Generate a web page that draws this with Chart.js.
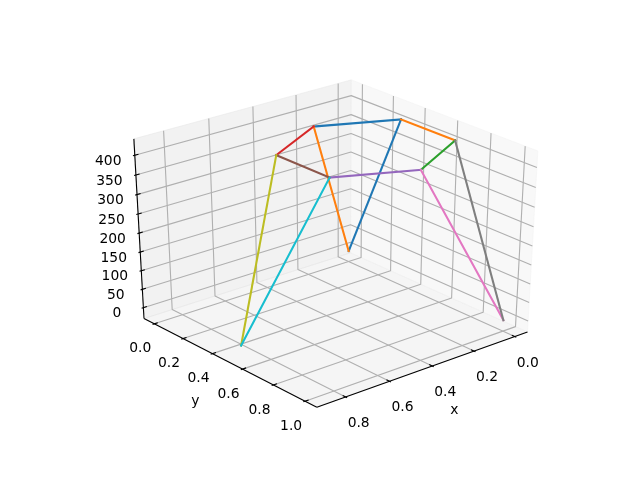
<!DOCTYPE html>
<html><head><meta charset="utf-8">
<style>html,body{margin:0;padding:0;background:#fff}canvas{display:block}</style>
<script src="https://cdn.jsdelivr.net/npm/chart.js@4/dist/chart.umd.js"></script>
</head><body><canvas id="c" width="640" height="480"></canvas>
<script>
// Node values
const nodeX = [0, 0, 0.866, 0, 0.289, 0.577, 0.577, 0.289, 0];
const nodeY = [0, 1, 0.5, 0.333, 0.167, 0.333, 0.667, 0.833, 0.667];
const nodeZ = [0, 0, 0, 411, 411, 411, 411, 411, 411];
// A=0 H=1 I=2 B=3 C=4 G=5 D=6 F=7 E=8
const edgeFrom = [0, 3, 0, 3, 8, 4, 6, 6, 7, 8, 5, 6];
const edgeTo   = [3, 4, 4, 8, 7, 5, 7, 5, 1, 1, 2, 2];
const edgeColors = ['#1f77b4','#1f77b4','#ff7f0e','#ff7f0e','#2ca02c','#d62728','#9467bd','#8c564b','#e377c2','#7f7f7f','#bcbd22','#17becf'];
const xTicks = [0, 0.2, 0.4, 0.6, 0.8];
const yTicks = [0, 0.2, 0.4, 0.6, 0.8, 1];
const zTicks = [0, 50, 100, 150, 200, 250, 300, 350, 400];
const xLabels = ['0.0','0.2','0.4','0.6','0.8'];
const yLabels = ['0.0','0.2','0.4','0.6','0.8','1.0'];
const zLabels = ['0','50','100','150','200','250','300','350','400'];
const xLim = [-0.0433, 0.9093], yLim = [-0.05, 1.05], zLim = [-20.5, 431.5];

// 3D view (elevation 30, azimuth 50, distance 10)
const az = 50*Math.PI/180, el = 30*Math.PI/180, dist = 10;
const nV = [Math.cos(el)*Math.cos(az), Math.cos(el)*Math.sin(az), Math.sin(el)];
const uV = [-Math.sin(az), Math.cos(az), 0];
const vV = [-Math.sin(el)*Math.cos(az), -Math.sin(el)*Math.sin(az), Math.cos(el)];
const dot = (a,b)=>a[0]*b[0]+a[1]*b[1]+a[2]*b[2];
function proj(x,y,z){
  const p=[(x-xLim[0])/(xLim[1]-xLim[0])-.5,(y-yLim[0])/(yLim[1]-yLim[0])-.5,(z-zLim[0])/(zLim[1]-zLim[0])-.5];
  const w=dist-dot(p,nV);
  return {x:dot(p,uV)/w,y:dot(p,vV)/w};
}
const dx=(xLim[1]-xLim[0])/12, dy=(yLim[1]-yLim[0])/12, dz=(zLim[1]-zLim[0])/12;
const x0=xLim[0]-dx/4, x1=xLim[1]+dx/4, y0=yLim[0]-dy/4, y1=yLim[1]+dy/4, z0=zLim[0]-dz/4, z1=zLim[1]+dz/4;

const datasets=[];
function path(pts,style){datasets.push(Object.assign({data:pts.map(p=>proj(p[0],p[1],p[2])),showLine:true,pointRadius:0,pointHoverRadius:0,tension:0,clip:false,borderCapStyle:'butt',borderJoinStyle:'round'},style));}
function pane(pts,c){path(pts.concat([pts[0]]),{fill:'shape',backgroundColor:`rgba(${c},${c},${c},0.5)`,borderColor:`rgba(${c},${c},${c},0.5)`,borderWidth:1,order:400});}
pane([[x0,y0,z0],[x0,y1,z0],[x0,y1,z1],[x0,y0,z1]],242); // x wall
pane([[x0,y0,z0],[x1,y0,z0],[x1,y0,z1],[x0,y0,z1]],230); // y wall
pane([[x0,y0,z0],[x1,y0,z0],[x1,y1,z0],[x0,y1,z0]],236); // floor
const grid={borderColor:'#b0b0b0',borderWidth:1.11,order:300};
xTicks.forEach(t=>path([[t,y1,z0],[t,y0,z0],[t,y0,z1]],grid));
yTicks.forEach(t=>path([[x1,t,z0],[x0,t,z0],[x0,t,z1]],grid));
zTicks.forEach(t=>path([[x1,y0,t],[x0,y0,t],[x0,y1,t]],grid));
const ax={borderColor:'#000',borderWidth:1.11,order:200};
path([[x0,y1,z0],[x1,y1,z0]],ax);
path([[x1,y0,z0],[x1,y1,z0]],ax);
path([[x1,y0,z0],[x1,y0,z1]],ax);
xTicks.forEach(t=>path([[t,y1+0.1*dy,z0],[t,y1-0.2*dy,z0]],ax));
yTicks.forEach(t=>path([[x1+0.1*dx,t,z0],[x1-0.2*dx,t,z0]],ax));
zTicks.forEach(t=>path([[x1+0.1*dx,y0,t],[x1-0.2*dx,y0,t]],ax));
edgeFrom.forEach((a,i)=>{const b=edgeTo[i];
  path([[nodeX[a],nodeY[a],nodeZ[a]],[nodeX[b],nodeY[b],nodeZ[b]]],{borderColor:edgeColors[i],borderWidth:2.08,borderCapStyle:'square',order:100-i});
});

const textPlugin={id:'axisText',afterDraw(chart){
  const c=chart.ctx,sx=chart.scales.x,sy=chart.scales.y;
  c.save();c.fillStyle='#000';c.font='13.89px "DejaVu Sans"';c.textAlign='center';c.textBaseline='middle';
  const put=(s,p,ox,oy)=>c.fillText(s,sx.getPixelForValue(p.x)+ox,sy.getPixelForValue(p.y)+oy);
  xTicks.forEach((t,i)=>put(xLabels[i],proj(t,y1,z0),13,26.5));
  yTicks.forEach((t,i)=>put(yLabels[i],proj(x1,t,z0),-14,25));
  zTicks.forEach((t,i)=>put(zLabels[i],proj(x1,y0,t),-26.5,6));
  put('x',proj((xLim[0]+xLim[1])/2,y1,z0),29,41.5);
  put('y',proj(x1,(yLim[0]+yLim[1])/2,z0),-32,40);
  c.restore();
}};

new Chart(document.getElementById('c'),{
  type:'scatter',
  data:{datasets},
  plugins:[textPlugin],
  options:{
    responsive:false,animation:false,
    layout:{padding:{left:80,right:64,top:57.6,bottom:52.8}},
    events:[],
    plugins:{legend:{display:false},title:{display:false},tooltip:{enabled:false}},
    scales:{
      x:{type:'linear',display:false,min:-0.095,max:0.09},
      y:{type:'linear',display:false,min:-0.095,max:0.09}
    }
  }
});
</script></body></html>
